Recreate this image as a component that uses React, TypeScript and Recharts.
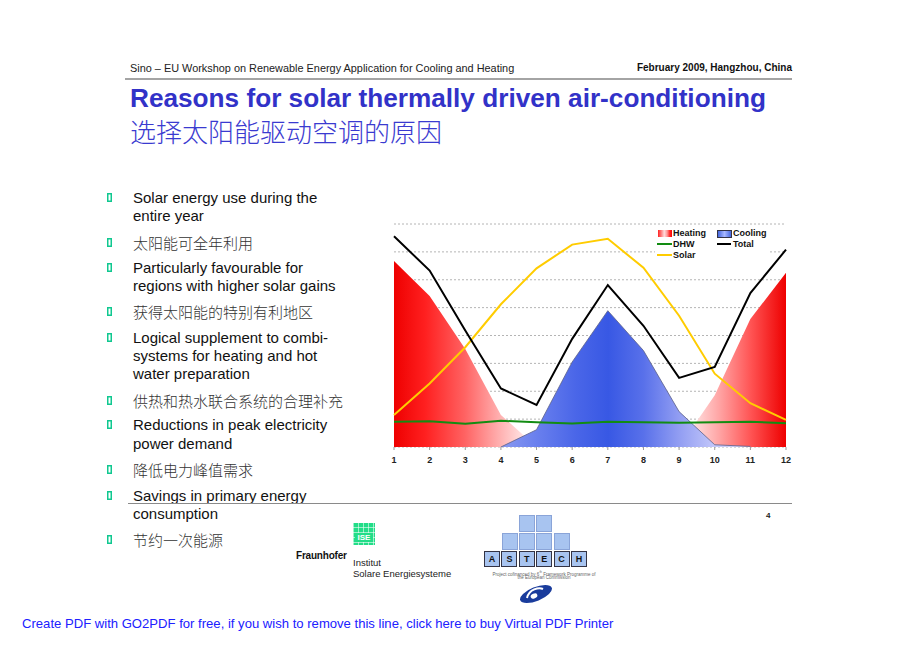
import React from 'react';
import { ComposedChart, Area, Line, XAxis, YAxis, CartesianGrid, Legend } from 'recharts';

const months = [1, 2, 3, 4, 5, 6, 7, 8, 9, 10, 11, 12];
const heating = [6.67, 5.42, 3.52, 1.15, 0, 0, 0, 0, 0, 1.86, 4.59, 6.25];
const cooling = [null, null, null, 0, 0.62, 3.05, 4.89, 3.46, 1.27, 0.08, 0.02, null];
const dhw = [0.91, 0.92, 0.83, 0.94, 0.89, 0.84, 0.91, 0.89, 0.87, 0.89, 0.91, 0.85];
const total = [7.56, 6.33, 4.18, 2.1, 1.51, 3.88, 5.81, 4.35, 2.48, 2.87, 5.52, 7.08];
const solar = [1.15, 2.28, 3.58, 5.12, 6.41, 7.26, 7.47, 6.43, 4.71, 2.63, 1.57, 0.97];
const yTicks = [0, 1, 2, 3, 4, 5, 6, 7, 8];

const legendLabels = { heating: 'Heating', cooling: 'Cooling', dhw: 'DHW', total: 'Total', solar: 'Solar' };

const bulletLines: { text: string; y: number; bullet: boolean }[] = [
  { text: 'Solar energy use during the', y: 199, bullet: true },
  { text: 'entire year', y: 217, bullet: false },
  { text: '太阳能可全年利用', y: 244, bullet: true },
  { text: 'Particularly favourable for', y: 268.5, bullet: true },
  { text: 'regions with higher solar gains', y: 287, bullet: false },
  { text: '获得太阳能的特别有利地区', y: 313, bullet: true },
  { text: 'Logical supplement to combi-', y: 339, bullet: true },
  { text: 'systems for heating and hot', y: 357, bullet: false },
  { text: 'water preparation', y: 375, bullet: false },
  { text: '供热和热水联合系统的合理补充', y: 401.5, bullet: true },
  { text: 'Reductions in peak electricity', y: 426, bullet: true },
  { text: 'power demand', y: 444.5, bullet: false },
  { text: '降低电力峰值需求', y: 471, bullet: true },
  { text: 'Savings in primary energy', y: 497, bullet: true },
  { text: 'consumption', y: 514.5, bullet: false },
  { text: '节约一次能源', y: 541, bullet: true },
];

const astechLetters = ['A', 'S', 'T', 'E', 'C', 'H'];

const data = months.map((m, i) => ({
  month: m,
  heating: heating[i],
  cooling: cooling[i],
  dhw: dhw[i],
  total: total[i],
  solar: solar[i],
}));

const SANS = '"Liberation Sans", Arial, sans-serif';
const CJK = '"Noto Sans CJK SC", sans-serif';

const abs = (s: React.CSSProperties): React.CSSProperties => ({ position: 'absolute', whiteSpace: 'nowrap', ...s });

const LegendBox = () => {
  const txt: React.CSSProperties = { position: 'absolute', fontFamily: SANS, fontWeight: 700, fontSize: 9, lineHeight: '10px', color: '#111' };
  const line = (color: string): React.CSSProperties => ({ position: 'absolute', height: 2, background: color });
  return (
    <div style={{ position: 'relative', width: 114, height: 36, background: '#fff' }}>
      <div style={{ position: 'absolute', left: 3, top: 4, width: 14, height: 7, background: 'linear-gradient(90deg,#f22 0%,#f88 25%,#fdd 45%,#f99 65%,#f22 85%,#f00 100%)' }} />
      <span style={{ ...txt, left: 18, top: 2 }}>{legendLabels.heating}</span>
      <div style={{ position: 'absolute', left: 62, top: 4, width: 13, height: 6, border: '1px solid #334', background: 'linear-gradient(90deg,#4466dd,#a8b8ff 50%,#4466dd)' }} />
      <span style={{ ...txt, left: 78, top: 2 }}>{legendLabels.cooling}</span>
      <div style={{ ...line('#128c12'), left: 2, top: 17, width: 15 }} />
      <span style={{ ...txt, left: 18, top: 13 }}>{legendLabels.dhw}</span>
      <div style={{ ...line('#000'), left: 62, top: 17, width: 14 }} />
      <span style={{ ...txt, left: 78, top: 13 }}>{legendLabels.total}</span>
      <div style={{ ...line('#ffcc00'), left: 2, top: 28, width: 15 }} />
      <span style={{ ...txt, left: 18, top: 24 }}>{legendLabels.solar}</span>
    </div>
  );
};

const Chart = () => (
  <ComposedChart width={420} height={270} data={data} margin={{ top: 14, right: 14, bottom: 3, left: 14 }}>
    <defs>
      <linearGradient id="heatGrad" x1="0" y1="0" x2="1" y2="0">
        <stop offset="0" stopColor="#ee0000" />
        <stop offset="0.08" stopColor="#ff2020" />
        <stop offset="0.18" stopColor="#ff6262" />
        <stop offset="0.26" stopColor="#ffa8a8" />
        <stop offset="0.33" stopColor="#ffe2e2" />
        <stop offset="0.76" stopColor="#ffe2e2" />
        <stop offset="0.83" stopColor="#ffa4a4" />
        <stop offset="0.91" stopColor="#ff5454" />
        <stop offset="1" stopColor="#ee0000" />
      </linearGradient>
      <linearGradient id="coolGrad" x1="0" y1="0" x2="1" y2="0">
        <stop offset="0" stopColor="#8a9af0" />
        <stop offset="0.14" stopColor="#6a80ee" />
        <stop offset="0.3" stopColor="#4a66e8" />
        <stop offset="0.43" stopColor="#3858e4" />
        <stop offset="0.57" stopColor="#5870ea" />
        <stop offset="0.71" stopColor="#909cf2" />
        <stop offset="0.86" stopColor="#c4c8fa" />
        <stop offset="1" stopColor="#d4d4fb" />
      </linearGradient>
    </defs>
    <CartesianGrid vertical={false} stroke="#b4b4b4" strokeDasharray="2 2" />
    <XAxis
      dataKey="month"
      type="number"
      domain={[1, 12]}
      ticks={months}
      interval={0}
      axisLine={false}
      tickLine={{ stroke: '#999' }}
      tickSize={3}
      tickMargin={7}
      height={30}
      tick={{ fontSize: 9, fontWeight: 700, fill: '#222', fontFamily: SANS }}
    />
    <YAxis hide domain={[0, 8]} ticks={yTicks} />
    <Legend
      layout="vertical"
      align="center"
      verticalAlign="middle"
      content={() => <LegendBox />}
      wrapperStyle={{ position: 'absolute', left: 275, top: 16, width: 114, height: 36, margin: 0 }}
    />
    <Area type="linear" dataKey="heating" stroke="none" fill="url(#heatGrad)" fillOpacity={1} isAnimationActive={false} dot={false} activeDot={false} />
    <Area type="linear" dataKey="cooling" stroke="#5a5f88" strokeWidth={0.8} fill="url(#coolGrad)" fillOpacity={1} isAnimationActive={false} dot={false} activeDot={false} />
    <Line type="linear" dataKey="dhw" stroke="#128c12" strokeWidth={2} dot={false} activeDot={false} isAnimationActive={false} />
    <Line type="linear" dataKey="solar" stroke="#ffcc00" strokeWidth={2} dot={false} activeDot={false} isAnimationActive={false} />
    <Line type="linear" dataKey="total" stroke="#000" strokeWidth={2} dot={false} activeDot={false} isAnimationActive={false} />
  </ComposedChart>
);

export default function App() {
  return (
    <div style={{ position: 'absolute', left: 0, top: 0, width: 920, height: 651, background: '#fff', overflow: 'hidden', fontFamily: SANS }}>
      {/* header */}
      <div style={abs({ left: 130, top: 61, fontSize: 10.9, lineHeight: '14px', color: '#222' })}>
        Sino – EU Workshop on Renewable Energy Application for Cooling and Heating
      </div>
      <div style={abs({ right: 128, top: 61, fontSize: 10, lineHeight: '14px', fontWeight: 700, color: '#111' })}>
        February 2009, Hangzhou, China
      </div>
      <div style={abs({ left: 125, top: 78, width: 667, height: 0, borderTop: '2px solid #a4a4a4' })} />
      <div style={abs({ left: 130, top: 83, fontSize: 26.2, lineHeight: '30px', fontWeight: 700, color: '#3232c8' })}>
        Reasons for solar thermally driven air-conditioning
      </div>
      <div style={abs({ left: 130, top: 117, fontSize: 26, lineHeight: '28px', fontFamily: CJK, fontWeight: 300, color: '#3a3ad0' })}>
        选择太阳能驱动空调的原因
      </div>

      {/* bullets */}
      {bulletLines.map((b, i) => {
        const isCjk = /[\u4e00-\u9fff]/.test(b.text);
        return (
          <React.Fragment key={i}>
            {b.bullet && (
              <div style={abs({ left: 107, top: Math.round(b.y) - 6, width: 3, height: 7, border: '1px solid #10c890', boxShadow: 'inset 0 0 0 0.5px #10c890' })} />
            )}
            <div
              style={abs({
                left: 133,
                top: b.y - 10,
                fontSize: 15,
                lineHeight: '18px',
                color: isCjk ? '#333' : '#111',
                fontFamily: isCjk ? CJK : SANS,
                fontWeight: isCjk ? 300 : 400,
              })}
            >
              {b.text}
            </div>
          </React.Fragment>
        );
      })}

      {/* separator line */}
      <div style={abs({ left: 128, top: 503, width: 664, height: 0, borderTop: '1.5px solid #8a8a8a' })} />
      <div style={abs({ left: 766, top: 510, fontSize: 8, lineHeight: '12px', fontWeight: 700, color: '#222' })}>4</div>

      {/* chart */}
      <div style={abs({ left: 380, top: 210, width: 420, height: 270 })}>
        <Chart />
      </div>

      {/* Fraunhofer logo */}
      <div
        style={abs({
          left: 353,
          top: 523,
          width: 22,
          height: 22,
          background: '#22dd88',
          backgroundImage:
            'linear-gradient(90deg, rgba(255,255,255,0.55) 1px, transparent 1px), linear-gradient(0deg, rgba(255,255,255,0.55) 1px, transparent 1px)',
          backgroundSize: '5px 5px',
        })}
      />
      <div style={abs({ left: 355, top: 533, width: 18, height: 9, background: '#22dd88', color: '#fff', fontSize: 8, lineHeight: '9px', fontWeight: 700, textAlign: 'center' })}>ISE</div>
      <div style={abs({ left: 296, top: 550, fontSize: 10, lineHeight: '12px', fontWeight: 700, color: '#111', fontFamily: SANS, letterSpacing: -0.2 })}>Fraunhofer</div>
      <div style={abs({ left: 353, top: 557, fontSize: 9.5, lineHeight: '11px', color: '#222', fontFamily: SANS })}>Institut</div>
      <div style={abs({ left: 353, top: 568, fontSize: 9.5, lineHeight: '11px', color: '#222', fontFamily: SANS })}>Solare Energiesysteme</div>

      {/* ASTECH logo */}
      {[0, 1].map((c) => (
        <div key={'t' + c} style={abs({ left: 519 + c * 17, top: 515, width: 14, height: 15, background: '#a8c4f0', border: '1px solid #8aa4d8' })} />
      ))}
      {[0, 1, 2, 3].map((c) => (
        <div key={'m' + c} style={abs({ left: 502 + c * 17.2, top: 533, width: 14, height: 15, background: '#a8c4f0', border: '1px solid #8aa4d8' })} />
      ))}
      {astechLetters.map((l, c) => (
        <div
          key={'b' + c}
          style={abs({
            left: 484 + c * 17.4,
            top: 551,
            width: 14,
            height: 14,
            background: '#a8c4f0',
            border: '1px solid #334',
            fontSize: 9,
            lineHeight: '14px',
            fontWeight: 700,
            textAlign: 'center',
            color: '#111',
          })}
        >
          {l}
        </div>
      ))}
      <div style={abs({ left: 484, top: 570, width: 120, fontSize: 4.5, lineHeight: '5px', color: '#666', textAlign: 'center' })}>
        Project cofinanced by 6<sup style={{ fontSize: 3 }}>th</sup> Framework Programme of
      </div>
      <div style={abs({ left: 484, top: 575, width: 120, fontSize: 4.5, lineHeight: '5px', color: '#666', textAlign: 'center' })}>
        the European Commission
      </div>
      <svg style={{ position: 'absolute', left: 517, top: 583 }} width={38} height={22}>
        <ellipse cx={19} cy={11} rx={17} ry={7} fill="#1a3c9c" transform="rotate(-22 19 11)" />
        <path d="M10 15 C 12 6, 22 4, 26 6" stroke="#fff" strokeWidth={2} fill="none" />
        <ellipse cx={17} cy={13} rx={3.5} ry={2.3} fill="#fff" transform="rotate(-22 17 13)" />
      </svg>

      {/* footer */}
      <div style={abs({ left: 22, top: 616, fontSize: 13.1, lineHeight: '16px', color: '#2020ff' })}>
        Create PDF with GO2PDF for free, if you wish to remove this line, click here to buy Virtual PDF Printer
      </div>
    </div>
  );
}
